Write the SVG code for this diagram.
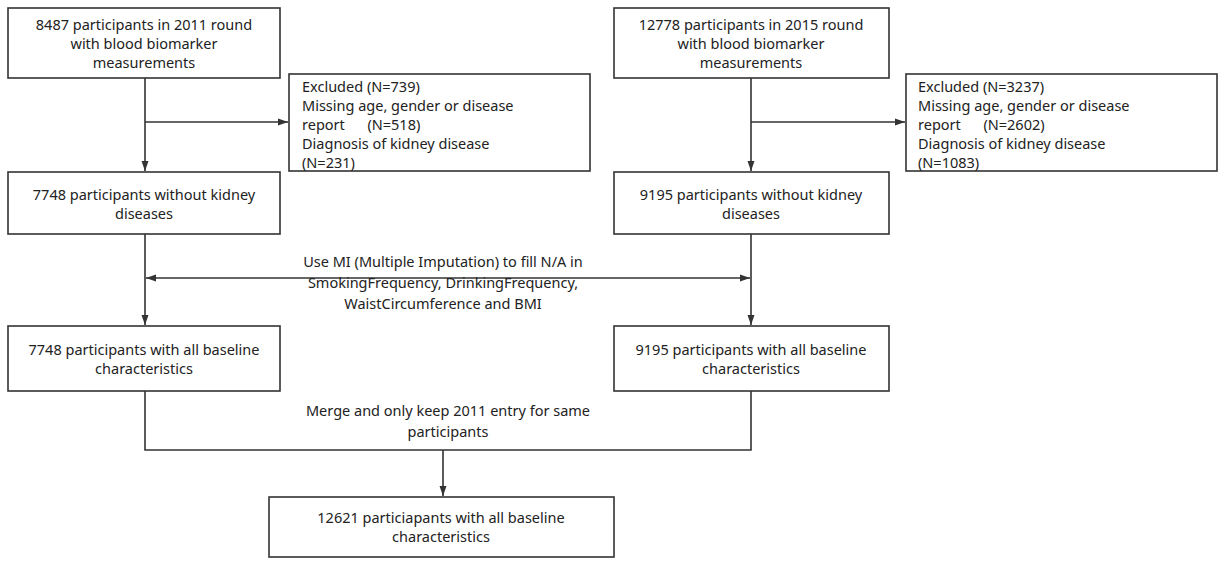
<svg xmlns="http://www.w3.org/2000/svg" width="1227" height="565" viewBox="0 0 1227 565">
<style>
rect{fill:#fff;stroke:#333;stroke-width:1.6}
text{font-family:"Noto Sans","Open Sans",sans-serif;font-size:14.5px;fill:#222}
.c{text-anchor:middle}
.l{fill:none;stroke:#333;stroke-width:1.6}
</style>
<defs><marker id="a" viewBox="0 0 10 10" refX="10" refY="5" markerWidth="10" markerHeight="10" markerUnits="userSpaceOnUse" orient="auto-start-reverse"><path d="M0,1.5L10,5L0,8.5z" fill="#333"/></marker></defs>
<rect width="1227" height="565" style="stroke:none"/>
<g id="connectors">
<path class="l" d="M145,78V171" marker-end="url(#a)"/>
<path class="l" d="M145,122H288" marker-end="url(#a)"/>
<path class="l" d="M751,78V171" marker-end="url(#a)"/>
<path class="l" d="M751,122H905" marker-end="url(#a)"/>
<path class="l" d="M145,234V325" marker-end="url(#a)"/>
<path class="l" d="M751,234V325" marker-end="url(#a)"/>
<path class="l" d="M146,278H750" marker-start="url(#a)" marker-end="url(#a)"/>
<path class="l" d="M145,391V450H751V391"/>
<path class="l" d="M443,450V496" marker-end="url(#a)"/>
</g>
<g id="mi-label"><rect x="298" y="252" width="290" height="58" style="stroke:none;fill:none"/>
<text class="c" x="443" y="267">Use MI (Multiple Imputation) to fill N/A in</text>
<text class="c" x="443" y="288">SmokingFrequency, DrinkingFrequency,</text>
<text class="c" x="443" y="309">WaistCircumference and BMI</text></g>
<g id="merge-label">
<text class="c" x="448" y="416">Merge and only keep 2011 entry for same</text>
<text class="c" x="448" y="437">participants</text></g>
<g id="n1"><rect x="8" y="8" width="272" height="70"/>
<text class="c" x="144" y="30">8487 participants in 2011 round</text>
<text class="c" x="144" y="49">with blood biomarker</text>
<text class="c" x="144" y="68">measurements</text></g>
<g id="n2"><rect x="289" y="74" width="301" height="97"/>
<text x="302" y="92">Excluded (N=739)</text>
<text x="302" y="111">    Missing age, gender or disease</text>
<text x="302" y="130" xml:space="preserve">report      (N=518)</text>
<text x="302" y="149">    Diagnosis of kidney disease</text>
<text x="302" y="168">(N=231)</text></g>
<g id="n3"><rect x="8" y="172" width="272" height="62"/>
<text class="c" x="144" y="200">7748 participants without kidney</text>
<text class="c" x="144" y="219">diseases</text></g>
<g id="n4"><rect x="8" y="326" width="272" height="65"/>
<text class="c" x="144" y="355">7748 participants with all baseline</text>
<text class="c" x="144" y="374">characteristics</text></g>
<g id="n5"><rect x="614" y="8" width="275" height="70"/>
<text class="c" x="751" y="30">12778 participants in 2015 round</text>
<text class="c" x="751" y="49">with blood biomarker</text>
<text class="c" x="751" y="68">measurements</text></g>
<g id="n6"><rect x="906" y="74" width="311" height="97"/>
<text x="918" y="92">Excluded (N=3237)</text>
<text x="918" y="111">    Missing age, gender or disease</text>
<text x="918" y="130" xml:space="preserve">report      (N=2602)</text>
<text x="918" y="149">    Diagnosis of kidney disease</text>
<text x="918" y="168">(N=1083)</text></g>
<g id="n7"><rect x="614" y="172" width="275" height="62"/>
<text class="c" x="751" y="200">9195 participants without kidney</text>
<text class="c" x="751" y="219">diseases</text></g>
<g id="n8"><rect x="614" y="326" width="275" height="65"/>
<text class="c" x="751" y="355">9195 participants with all baseline</text>
<text class="c" x="751" y="374">characteristics</text></g>
<g id="n9"><rect x="269" y="497" width="345" height="60"/>
<text class="c" x="441" y="523">12621 particiapants with all baseline</text>
<text class="c" x="441" y="542">characteristics</text></g>
</svg>
